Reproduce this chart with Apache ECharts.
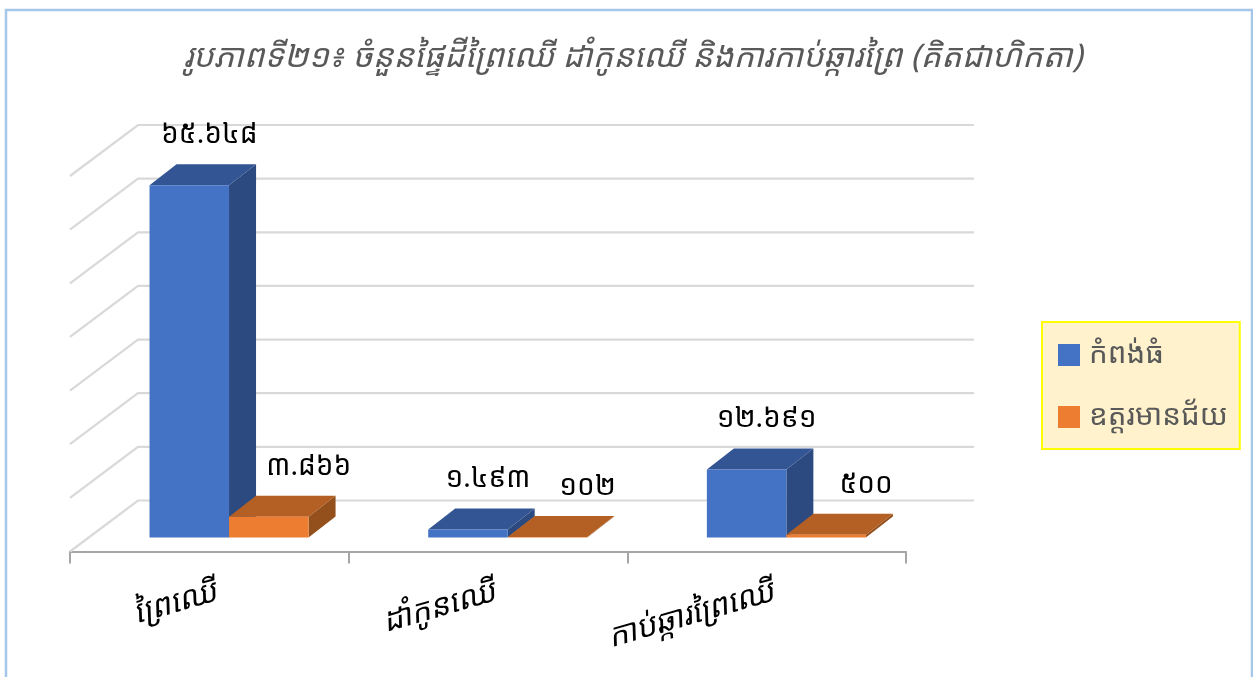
<!DOCTYPE html>
<html>
<head>
<meta charset="UTF-8">
<style>
html,body{margin:0;padding:0;background:#fff;overflow:hidden}
#chart{width:1253px;height:677px}
</style>
</head>
<body>
<div id="chart"></div>
<script src="https://cdn.jsdelivr.net/npm/echarts@6/dist/echarts.min.js"></script>
<script>
var titleText = 'រូបភាពទី២១៖ ចំនួនផ្ទៃដីព្រៃឈើ ដាំកូនឈើ និងការកាប់ឆ្ការព្រៃ (គិតជាហិកតា)';
var categories = ['ព្រៃឈើ', 'ដាំកូនឈើ', 'កាប់ឆ្ការព្រៃឈើ'];
var kampongThom = [65648, 1493, 12691];
var oddarMeanchey = [3866, 102, 500];
var kampongThomLabels = ['៦៥.៦៤៨', '១.៤៩៣', '១២.៦៩១'];
var oddarMeancheyLabels = ['៣.៨៦៦', '១០២', '៥០០'];
var gridTicks = [0, 10000, 20000, 30000, 40000, 50000, 60000, 70000];

var font = '"Noto Sans Khmer","Khmer OS","Noto Sans",sans-serif';

// fake 3d: the wall sits behind the axis, the bars stand half way on the floor
var wallDx = 68, wallDy = -51;
var barDx = 19.7, barDy = -14;
var depthX = 27, depthY = -21;
var barW = 79.5;

function renderWall(params, api) {
    var box = params.coordSys;
    var y = api.coord([0, api.value(0)])[1];
    var x0 = box.x, x1 = box.x + box.width;
    return {
        type: 'polyline',
        shape: {points: [[x0, y], [x0 + wallDx, y + wallDy], [x1 + wallDx, y + wallDy]]},
        style: {stroke: '#d9d9d9', lineWidth: 2.2, fill: null},
        silent: true
    };
}

function barRenderer(side, labels, front, top, right, labelDx) {
    return function (params, api) {
        var cat = api.value(0);
        var base = api.coord([cat, 0]);
        var tip = api.coord([cat, api.value(1)]);
        var xl = base[0] + barDx + (side < 0 ? -barW : 0);
        var xr = xl + barW;
        var yb = base[1] + barDy;
        var yt = tip[1] + barDy;
        return {
            type: 'group',
            children: [
                {type: 'polygon', shape: {points: [[xr, yb], [xr + depthX, yb + depthY], [xr + depthX, yt + depthY], [xr, yt]]}, style: {fill: right}},
                {type: 'polygon', shape: {points: [[xl, yt], [xl + depthX, yt + depthY], [xr + depthX, yt + depthY], [xr, yt]]}, style: {fill: top}},
                {type: 'rect', shape: {x: xl, y: yt, width: barW, height: yb - yt}, style: {fill: front}},
                {type: 'text', x: xl + barW / 2 + labelDx, y: yt - 50, style: {
                    text: labels[params.dataIndex], fill: '#000', font: '28px ' + font,
                    textAlign: 'center', textVerticalAlign: 'middle'
                }}
            ]
        };
    };
}

var chart = echarts.init(document.getElementById('chart'));
chart.setOption({
    animation: false,
    backgroundColor: '#fff',
    graphic: [{
        type: 'rect', z: -1, silent: true,
        shape: {x: 6, y: 10, width: 1246, height: 700},
        style: {fill: null, stroke: '#a3c6e9', lineWidth: 2.5}
    }],
    title: {
        text: titleText, left: 633, top: 58, textAlign: 'center', textVerticalAlign: 'middle', padding: 0,
        textStyle: {color: '#595959', fontSize: 32.5, fontStyle: 'italic', fontWeight: 'normal', fontFamily: font}
    },
    legend: {
        data: ['កំពង់ធំ', 'ឧត្តរមានជ័យ'],
        orient: 'vertical', left: 1042, top: 322,
        backgroundColor: '#fff2cc', borderColor: '#ffff00', borderWidth: 2,
        padding: [18, 12, 17, 16],
        icon: 'rect', itemWidth: 22, itemHeight: 22, itemGap: 32,
        textStyle: {color: '#595959', fontSize: 29.5, lineHeight: 22, padding: [0, 0, 0, 4], fontFamily: font}
    },
    grid: {left: 70, right: 347, top: 176, bottom: 125.5},
    xAxis: {
        type: 'category', data: categories,
        axisLine: {show: true, lineStyle: {color: '#a6a6a6', width: 2}},
        axisTick: {show: true, alignWithLabel: false, length: 12, lineStyle: {color: '#a6a6a6', width: 2}},
        axisLabel: {rotate: 16, margin: 42, padding: [0, -7, 0, 0], color: '#000', fontSize: 31, fontStyle: 'italic', fontFamily: font, interval: 0}
    },
    yAxis: {type: 'value', min: 0, max: 70000, interval: 10000, show: false, splitLine: {show: false}},
    series: [
        {
            name: 'wall', type: 'custom', renderItem: renderWall, z: 1,
            data: gridTicks.map(function (v) { return [v]; }), encode: {y: 0}
        },
        {
            name: 'កំពង់ធំ', type: 'custom', z: 3,
            itemStyle: {color: '#4472c4'},
            renderItem: barRenderer(-1, kampongThomLabels, '#4472c4', '#335593', '#2c4a80', 20),
            data: kampongThom.map(function (v, i) { return [i, v]; }), encode: {x: 0, y: 1}
        },
        {
            name: 'ឧត្តរមានជ័យ', type: 'custom', z: 4,
            itemStyle: {color: '#ed7d31'},
            renderItem: barRenderer(1, oddarMeancheyLabels, '#ed7d31', '#b45f23', '#93501d', 40),
            data: oddarMeanchey.map(function (v, i) { return [i, v]; }), encode: {x: 0, y: 1}
        }
    ]
});
</script>
</body>
</html>
